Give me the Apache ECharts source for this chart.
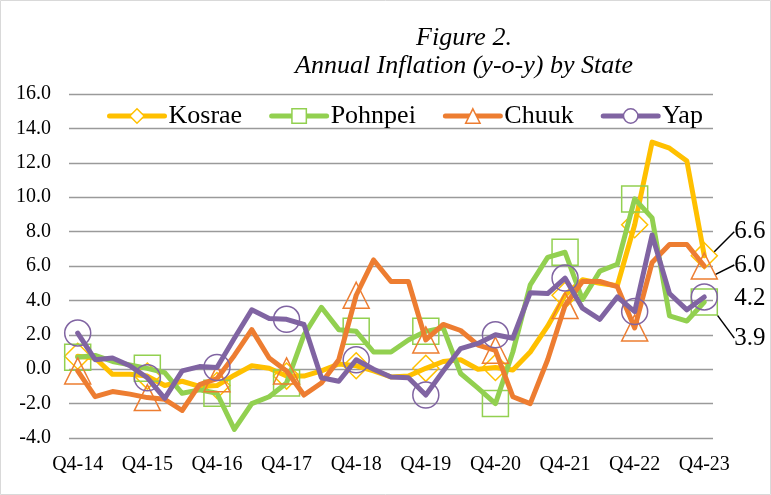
<!DOCTYPE html>
<html>
<head>
<meta charset="utf-8">
<script src="https://cdn.jsdelivr.net/npm/echarts@6/dist/echarts.min.js"></script>
<style>
  html, body { margin: 0; padding: 0; background: #fff; }
  #chart { width: 771px; height: 495px; }
</style>
</head>
<body>
<div id="chart"></div>
<script>
const categories = [
  'Q4-14','Q1-15','Q2-15','Q3-15','Q4-15','Q1-16','Q2-16','Q3-16','Q4-16',
  'Q1-17','Q2-17','Q3-17','Q4-17','Q1-18','Q2-18','Q3-18','Q4-18',
  'Q1-19','Q2-19','Q3-19','Q4-19','Q1-20','Q2-20','Q3-20','Q4-20',
  'Q1-21','Q2-21','Q3-21','Q4-21','Q1-22','Q2-22','Q3-22','Q4-22',
  'Q1-23','Q2-23','Q3-23','Q4-23'
];
const kosrae  = [0.75, 0.65, -0.3, -0.3, -0.4, -0.95, -0.7, -1.0, -0.95, -0.35, 0.2, 0.05, -0.4, -0.4, -0.1, 0.3, 0.2, -0.1, -0.45, -0.4, 0.05, 0.45, 0.55, 0.0, 0.1, -0.05, 1.0, 2.5, 4.3, 5.2, 5.0, 4.85, 8.4, 13.2, 12.85, 12.1, 6.6];
const pohnpei = [0.7, 0.8, 0.45, 0.25, 0.05, -0.2, -1.4, -1.2, -1.4, -3.5, -2.0, -1.6, -0.8, 2.0, 3.6, 2.3, 2.2, 1.0, 1.0, 1.7, 2.2, 2.4, -0.25, -1.1, -2.0, 1.0, 4.9, 6.5, 6.8, 4.05, 5.7, 6.1, 9.9, 8.8, 3.1, 2.8, 3.9];
const chuuk   = [-0.1, -1.6, -1.3, -1.45, -1.65, -1.75, -2.4, -0.9, -0.55, 0.8, 2.3, 0.65, -0.1, -1.5, -0.8, 0.55, 4.3, 6.35, 5.1, 5.1, 1.7, 2.6, 2.25, 1.4, 1.1, -1.6, -2.0, 0.55, 3.7, 5.1, 5.1, 4.8, 2.4, 6.2, 7.25, 7.25, 6.0];
const yap     = [2.1, 0.55, 0.65, 0.2, -0.5, -1.7, -0.1, 0.15, 0.1, 1.8, 3.45, 2.95, 2.9, 2.6, -0.5, -0.7, 0.55, 0.0, -0.45, -0.5, -1.5, -0.1, 1.2, 1.5, 2.0, 1.8, 4.45, 4.4, 5.3, 3.55, 2.9, 4.2, 3.35, 7.8, 4.4, 3.45, 4.2];

const seriesNames = ['Kosrae', 'Pohnpei', 'Chuuk', 'Yap'];
const seriesColors = ['#FFC000', '#92D050', '#ED7D31', '#8064A2'];
const seriesSymbols = ['diamond', 'rect', 'triangle', 'circle'];
const seriesValues = [kosrae, pohnpei, chuuk, yap];
// label vertical offset from the last point, per series
const labelDy = [-24, 36, -1, 1];

const FONT = '"Liberation Serif", "Times New Roman", serif';
const LINE_W = 5;

function buildData(vals) {
  return vals.map((v, i) => i === vals.length - 1
    ? { value: v, label: { show: true } }
    : v);
}

function makeLayout(k) {
  return function (p) {
    const cx = p.rect.x + p.rect.width / 2;
    const cy = p.rect.y + p.rect.height / 2;
    const dy = labelDy[k];
    const res = { x: cx + 30, y: cy + dy, align: 'left', verticalAlign: 'middle' };
    if (k === 0 || k === 1) {
      res.labelLinePoints = [[cx + 1, cy + (dy > 0 ? 2 : -2)], [cx + 8, cy + dy], [cx + 22, cy + dy]];
    } else if (k === 2) {
      res.labelLinePoints = [[cx + 2, cy], [cx + 12, cy - 0.5], [cx + 22, cy - 1]];
    }
    return res;
  };
}

const series = seriesValues.map((vals, k) => ({
  name: seriesNames[k],
  type: 'line',
  data: buildData(vals),
  symbol: seriesSymbols[k],
  symbolSize: (v, p) => (p.dataIndex % 4 === 0 ? 26 : 0),
  showAllSymbol: true,
  smooth: false,
  lineStyle: { color: seriesColors[k], width: LINE_W, cap: 'round', join: 'round' },
  itemStyle: { color: 'rgba(0,0,0,0)', borderColor: seriesColors[k], borderWidth: 1.5 },
  label: {
    show: false,
    formatter: p => Number(p.value).toFixed(1),
    color: '#000',
    fontFamily: FONT,
    fontSize: 25
  },
  labelLine: { show: k !== 3, lineStyle: { color: '#000', width: 1.5 } },
  labelLayout: makeLayout(k),
  emphasis: { disabled: true },
  animation: false,
  z: 2 + k
}));

const chart = echarts.init(document.getElementById('chart'), null, { renderer: 'canvas' });
chart.setOption({
  backgroundColor: '#fff',
  animation: false,
  title: {
    text: 'Figure 2.\nAnnual Inflation (y-o-y) by State',
    left: 464,
    top: 24,
    textAlign: 'center',
    padding: 0,
    textStyle: {
      fontFamily: FONT,
      fontStyle: 'italic',
      fontWeight: 'normal',
      fontSize: 26,
      lineHeight: 28,
      color: '#000'
    }
  },
  legend: {
    left: 107,
    top: 103,
    padding: 0,
    itemWidth: 55,
    itemHeight: 18,
    itemGap: 27,
    textStyle: { fontFamily: FONT, fontSize: 26, color: '#000', padding: [0, 0, 0, -1] },
    data: seriesNames.map((n, k) => ({
      name: n,
      itemStyle: { color: '#fff', borderColor: seriesColors[k], borderWidth: 1.5 },
      lineStyle: { color: seriesColors[k], width: LINE_W, cap: 'round' }
    }))
  },
  grid: { left: 69, right: 58, top: 94, bottom: 57, containLabel: false },
  xAxis: {
    type: 'category',
    data: categories,
    boundaryGap: true,
    axisLine: { show: false },
    axisTick: { show: false },
    axisLabel: {
      interval: 3,
      fontFamily: FONT,
      fontSize: 20,
      color: '#000',
      margin: 17
    },
    splitLine: { show: false }
  },
  yAxis: {
    type: 'value',
    min: -4,
    max: 16,
    interval: 2,
    axisLine: { show: false },
    axisTick: { show: false },
    axisLabel: {
      formatter: v => v.toFixed(1),
      fontFamily: FONT,
      fontSize: 20,
      color: '#000',
      margin: 18
    },
    splitLine: { show: true, lineStyle: { color: '#9a9a9a', width: 1.3 } }
  },
  graphic: [{
    type: 'rect',
    shape: { x: 0.5, y: 0.5, width: 770, height: 494 },
    style: { fill: 'none', stroke: '#D9D9D9', lineWidth: 1 },
    silent: true
  }],
  series: series
});
</script>
</body>
</html>
